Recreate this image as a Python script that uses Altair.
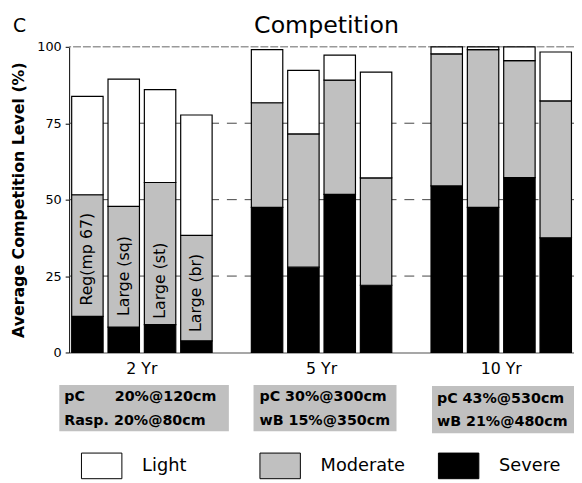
import altair as alt
import pandas as pd

# ---- data ----
groups = ["2 Yr", "5 Yr", "10 Yr"]
treatments = ["Reg(mp 67)", "Large (sq)", "Large (st)", "Large (br)"]
levels = ["Light", "Moderate", "Severe"]
severe = [11.8, 8.3, 9.1, 3.8, 47.5, 27.9, 51.7, 22.0, 54.5, 47.5, 57.2, 37.5]
moderate = [39.8, 39.5, 46.5, 34.5, 34.2, 43.6, 37.4, 35.1, 43.2, 51.6, 38.3, 44.8]
light = [32.2, 41.6, 30.4, 39.4, 17.4, 20.8, 8.2, 34.6, 2.3, 0.9, 4.5, 16.0]
label_pos = [30.5, 25.0, 23.5, 19.5]
grid_values = [25, 50, 75]
top_value = [100]
y_ticks = [0, 25, 50, 75, 100]
box_line1 = ["pC\u00a0\u00a0\u00a0\u00a0\u00a0\u00a020%@120cm", "pC 30%@300cm", "pC 43%@530cm"]
box_line2 = ["Rasp. 20%@80cm", "wB 15%@350cm", "wB 21%@480cm"]

FONT = "DejaVu Sans"
Y_TITLE = "Average Competition Level (%)"

rows = []
for gi, g in enumerate(groups):
    for ti, t in enumerate(treatments):
        k = gi * 4 + ti
        for lev, vals, o in (("Severe", severe, 0), ("Moderate", moderate, 1), ("Light", light, 2)):
            rows.append({"group": g, "treat": t, "level": lev, "value": vals[k], "ord": o})
df = pd.DataFrame(rows)

lab_df = pd.DataFrame({"group": [groups[0]] * 4, "treat": treatments, "value": label_pos})

x_axis = alt.Axis(title=None, labelAngle=0, ticks=False, labelFont=FONT,
                  labelFontSize=16, labelColor="black", labelPadding=8,
                  domainColor="#8a8a8a", domainWidth=1.5, grid=False)
x_scale = alt.Scale(paddingInner=0.19, paddingOuter=0)
y_axis = alt.Axis(values=y_ticks, title=Y_TITLE,
                  titleFont=FONT, titleFontSize=16, titleFontWeight="bold",
                  titleColor="black", titlePadding=10,
                  labelFont=FONT, labelFontSize=13, labelColor="black",
                  tickColor="black", tickSize=4, labelPadding=4,
                  domainColor="black", domainWidth=1, grid=False)
y_scale = alt.Scale(domain=[0, 100], nice=False, zero=True)


def yenc(stack=None):
    if stack:
        return alt.Y("value:Q", stack=stack, scale=y_scale, axis=y_axis, title=Y_TITLE)
    return alt.Y("value:Q", scale=y_scale, axis=y_axis, title=Y_TITLE)


grid = alt.Chart(pd.DataFrame({"value": grid_values})).mark_rule(
    color="#444444", strokeWidth=1, strokeDash=[10, 8]
).encode(y=yenc())

top = alt.Chart(pd.DataFrame({"value": top_value})).mark_rule(
    color="#999999", strokeWidth=1.5, strokeDash=[8, 2]
).encode(y=yenc())

bars = alt.Chart(df).mark_bar(stroke="black", strokeWidth=1.2, opacity=1).encode(
    x=alt.X("group:N", sort=groups, scale=x_scale, axis=x_axis),
    xOffset=alt.XOffset("treat:N", sort=treatments,
                        scale=alt.Scale(paddingInner=0.135, paddingOuter=0.07)),
    y=yenc("zero"),
    color=alt.Color("level:N",
                    scale=alt.Scale(domain=levels, range=["white", "#c0c0c0", "black"]),
                    legend=alt.Legend(title=None, orient="none", legendX=12, legendY=404,
                                      direction="horizontal", columns=3,
                                      symbolType="M-1,-0.634H1V0.634H-1Z",
                                      symbolSize=1681, symbolStrokeColor="black",
                                      symbolStrokeWidth=1, symbolOpacity=1,
                                      labelFont=FONT, labelFontSize=18, labelColor="black",
                                      labelOffset=20, columnPadding=31, gridAlign="all",
                                      padding=0)),
    order=alt.Order("ord:Q", sort="ascending"),
)

bar_text = alt.Chart(lab_df).mark_text(
    angle=270, align="center", baseline="middle", font=FONT, fontSize=16, color="black"
).encode(
    x=alt.X("group:N", sort=groups, scale=x_scale, axis=x_axis),
    xOffset=alt.XOffset("treat:N", sort=treatments),
    y=yenc(),
    text="treat:N",
)

# annotation boxes under each group (pixel layout)
box_layout = [(-10, 162, 343, 390, -5, 359, 384),
              (187, 332, 343, 390, 193, 359, 384),
              (368, 512, 344, 392, 373, 361, 385)]
ann = []
for i, (x0, x1, y0, y1, tx, b1, b2) in enumerate(box_layout):
    d = pd.DataFrame({"l1": [box_line1[i]], "l2": [box_line2[i]]})
    base = alt.Chart(d)
    ann.append(base.mark_rect(color="#c0c0c0").encode(
        x=alt.value(x0), x2=alt.value(x1), y=alt.value(y0), y2=alt.value(y1)))
    ann.append(base.mark_text(align="left", baseline="alphabetic", font=FONT, fontSize=14.5,
                              fontWeight="bold", color="black").encode(
        x=alt.value(tx), y=alt.value(b1), text="l1:N"))
    ann.append(base.mark_text(align="left", baseline="alphabetic", font=FONT, fontSize=14.5,
                              fontWeight="bold", color="black").encode(
        x=alt.value(tx), y=alt.value(b2), text="l2:N"))

panel = alt.Chart(pd.DataFrame({"t": ["C"]})).mark_text(
    align="left", baseline="alphabetic", font=FONT, fontSize=19, color="black"
).encode(x=alt.value(-57), y=alt.value(-15), text="t:N")

title = alt.Chart(pd.DataFrame({"t": ["Competition"]})).mark_text(
    align="center", baseline="alphabetic", font=FONT, fontSize=24, color="black"
).encode(x=alt.value(261), y=alt.value(-14), text="t:N")

chart = alt.layer(grid, top, bars, bar_text, *ann, panel, title).properties(
    width=512, height=310,
    autosize=alt.AutoSizeParams(type="none"),
    padding={"left": 62, "top": 36, "right": 0, "bottom": 129},
).configure_view(stroke=None)

chart.save("out.html", embed_options={"renderer": "svg", "actions": False})
